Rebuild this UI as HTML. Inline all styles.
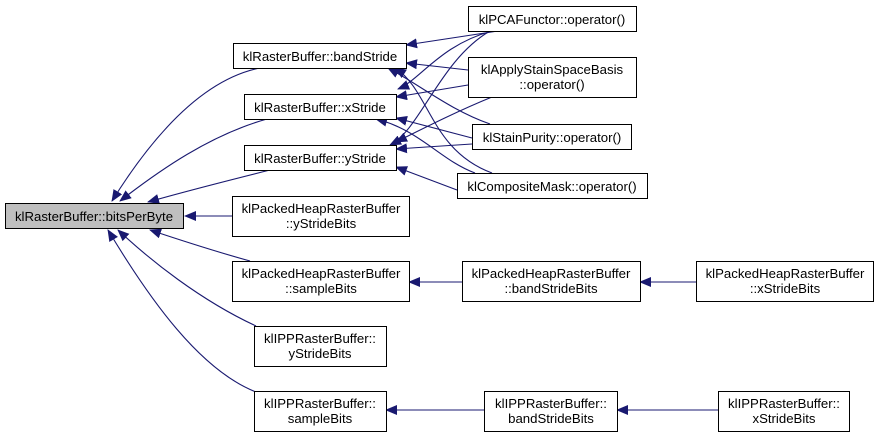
<!DOCTYPE html>
<html><head><meta charset="utf-8"><style>
body{margin:0;background:#fff;}
svg text{font-family:"Liberation Sans",Arial,sans-serif;font-size:13.2px;fill:#000;}
</style></head><body>
<svg width="877" height="438" viewBox="0 0 877 438" xmlns="http://www.w3.org/2000/svg">
<defs><marker id="a" markerWidth="12" markerHeight="10" refX="11" refY="5" orient="auto" markerUnits="userSpaceOnUse"><path d="M0,0 L12,5 L0,10 z" fill="#191970"/></marker></defs>
<g fill="none" stroke="#191970" stroke-width="1.1" marker-end="url(#a)">
<path d="M260,68 C200,80 150,140 112,201"/>
<path d="M267,119 C210,135 160,170 120,201"/>
<path d="M270,170 C230,180 190,190 148,202"/>
<path d="M232,216 L185,216"/>
<path d="M250,261 C210,250 180,240 150,230"/>
<path d="M256,326 C200,300 150,260 118,230"/>
<path d="M256,392 C200,370 150,300 108,230"/>
<path d="M498,31 L406,45"/>
<path d="M468,70 L406,63"/>
<path d="M468,85 L396,97"/>
<path d="M492,31 C440,45 420,80 398,89"/>
<path d="M472,138 L396,118"/>
<path d="M472,144 L396,149"/>
<path d="M492,97 C460,110 430,125 396,142"/>
<path d="M490,31 C440,60 420,130 390,145"/>
<path d="M457,190 L396,167"/>
<path d="M490,124 C450,110 420,85 388,68"/>
<path d="M492,173 C430,150 430,90 395,68"/>
<path d="M475,173 C440,160 420,130 376,119"/>
<path d="M462,282 L409,282"/>
<path d="M696,282 L640,282"/>
<path d="M484,410 L386,410"/>
<path d="M718,410 L617,410"/>
</g>
<g stroke="#000" stroke-width="1" fill="#fff">
<rect x="5.5" y="203.5" width="178" height="25" fill="#bfbfbf"/>
<rect x="233.5" y="43.5" width="173" height="25"/>
<rect x="244.5" y="94.5" width="152" height="25"/>
<rect x="244.5" y="145.5" width="152" height="25"/>
<rect x="232.5" y="196.5" width="177" height="40"/>
<rect x="232.5" y="261.5" width="177" height="40"/>
<rect x="254.5" y="326.5" width="132" height="40"/>
<rect x="254.5" y="391.5" width="132" height="40"/>
<rect x="468.5" y="6.5" width="168" height="25"/>
<rect x="468.5" y="57.5" width="168" height="40"/>
<rect x="472.5" y="124.5" width="159" height="25"/>
<rect x="457.5" y="173.5" width="190" height="25"/>
<rect x="462.5" y="261.5" width="178" height="40"/>
<rect x="696.5" y="261.5" width="177" height="40"/>
<rect x="484.5" y="391.5" width="133" height="40"/>
<rect x="718.5" y="391.5" width="131" height="40"/>
</g>
<g text-anchor="middle">
<text x="94" y="221">klRasterBuffer::bitsPerByte</text>
<text x="320" y="61">klRasterBuffer::bandStride</text>
<text x="320" y="112">klRasterBuffer::xStride</text>
<text x="320" y="163">klRasterBuffer::yStride</text>
<text x="321" y="213">klPackedHeapRasterBuffer</text><text x="321" y="228">::yStrideBits</text>
<text x="321" y="278">klPackedHeapRasterBuffer</text><text x="321" y="293">::sampleBits</text>
<text x="320" y="343">klIPPRasterBuffer::</text><text x="320" y="358">yStrideBits</text>
<text x="320" y="408">klIPPRasterBuffer::</text><text x="320" y="423">sampleBits</text>
<text x="552" y="24">klPCAFunctor::operator()</text>
<text x="552" y="74">klApplyStainSpaceBasis</text><text x="552" y="89">::operator()</text>
<text x="552" y="142">klStainPurity::operator()</text>
<text x="552" y="191">klCompositeMask::operator()</text>
<text x="551" y="278">klPackedHeapRasterBuffer</text><text x="551" y="293">::bandStrideBits</text>
<text x="785" y="278">klPackedHeapRasterBuffer</text><text x="785" y="293">::xStrideBits</text>
<text x="551" y="408">klIPPRasterBuffer::</text><text x="551" y="423">bandStrideBits</text>
<text x="784" y="408">klIPPRasterBuffer::</text><text x="784" y="423">xStrideBits</text>
</g>
</svg>
</body></html>
